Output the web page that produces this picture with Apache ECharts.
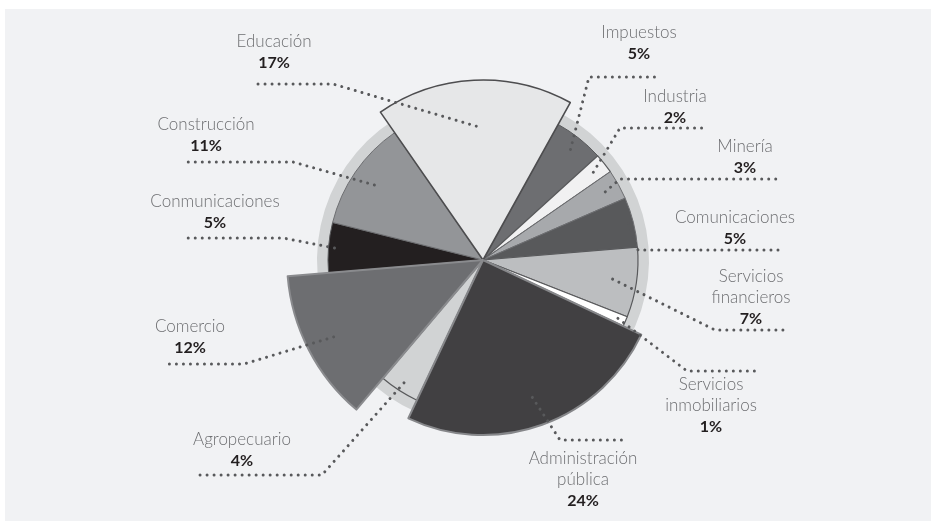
<!DOCTYPE html>
<html>
<head>
<meta charset="utf-8">
<script src="https://cdn.jsdelivr.net/npm/echarts@6/dist/echarts.min.js"></script>
<style>
  html, body { margin: 0; padding: 0; background: #ffffff; }
  #panel { position: absolute; left: 5px; top: 9px; width: 926px; height: 512px; background: #f1f2f4; }
  #chart { position: absolute; left: 0; top: 0; width: 931px; height: 521px; }
</style>
</head>
<body>
<div id="panel"></div>
<div id="chart"></div>
<script>
// Participación por sector (%)
const categories = [
  'Impuestos', 'Industria', 'Minería', 'Comunicaciones',
  'Servicios financieros', 'Servicios inmobiliarios', 'Administración pública',
  'Agropecuario', 'Comercio', 'Conmunicaciones', 'Construcción', 'Educación'
];
const shares = [5, 2, 3, 5, 7, 1, 24, 4, 12, 5, 11, 17];

// ---- presentation ----
const CENTER = [483, 260];
const RING_R = 166;      // grey halo behind the pie
const LABEL_R = 140;     // radius of the helper series that anchors leaders
const START_ANGLE = 61;

const sliceColors = ['#6d6e71', '#f1f1f2', '#a7a9ac', '#58595b', '#bcbec0', '#ffffff',
                     '#414042', '#d1d3d4', '#6d6e71', '#231f20', '#939598', '#e6e7e8'];
const sliceReach  = [155, 155, 155, 155, 155, 155, 175, 155, 196, 155, 155, 180];
const sliceEdge   = ['#58595b', '#58595b', '#6d6e71', '#6d6e71', '#58595b', '#58595b',
                     '#86878a', '#58595b', '#8a8b8e', '#58595b', '#6d6e71', '#4d4d4f'];
const sliceEdgeW  = [1, 1.2, 1, 1, 1.2, 1.2, 2, 1.2, 2, 1, 1, 1.6];

// leader geometry, relative to the pie centre:
// [start radius, elbow dx, elbow dy, end dx, text dx, text dy]
const leaders = [
  [141,  106, -183,  172,  156, -217],
  [141,  137, -132,  223,  192, -153],
  [140,  137,  -81,  293,  262, -103],
  [150,  155,  -10,  300,  252,  -32],
  [131,  232,   70,  303,  268,   38],
  [147,  204,  111,  277,  228,  146],
  [146,   77,  180,  142,  100,  220],
  [146, -161,  215, -286, -241,  190],
  [168, -239,  104, -320, -293,   77],
  [149, -200,  -22, -298, -268,  -48],
  [132, -190,  -98, -298, -277, -125],
  [134, -150, -176, -226, -209, -208]
];

const chart = echarts.init(document.getElementById('chart'), null, { renderer: 'canvas' });

const pieBase = {
  type: 'pie',
  center: CENTER,
  startAngle: START_ANGLE,
  clockwise: true,
  avoidLabelOverlap: false,
  silent: true,
  animation: false,
  emphasis: { disabled: true },
  label: { show: false },
  labelLine: { show: false }
};

function sliceData(visible) {
  return categories.map((name, i) => ({
    name: name,
    value: shares[i],
    itemStyle: visible(i)
      ? { color: sliceColors[i], borderColor: sliceEdge[i], borderWidth: sliceEdgeW[i] }
      : { color: 'rgba(0,0,0,0)', borderWidth: 0 }
  }));
}

const series = [];

// grey halo
series.push(Object.assign({}, pieBase, {
  z: 1,
  radius: [0, RING_R],
  data: [{ value: 1, itemStyle: { color: '#d1d3d4', borderWidth: 0 } }]
}));

// one layer of slices per distinct outer radius
const reaches = Array.from(new Set(sliceReach)).sort((a, b) => a - b);
reaches.forEach(r => {
  series.push(Object.assign({}, pieBase, {
    z: 2,
    radius: [0, r],
    data: sliceData(i => sliceReach[i] === r)
  }));
});

// labels and dotted leaders
function labelText(name, value) {
  const lines = name.split(' ').map(w => '{n|' + w + '}');
  lines.push('{p|' + value + '%}');
  return lines.join('\n');
}

series.push(Object.assign({}, pieBase, {
  z: 10,
  radius: [0, LABEL_R],
  data: sliceData(() => false),
  label: {
    show: true,
    position: 'outside',
    formatter: p => labelText(p.name, p.value),
    rich: {
      n: { fontFamily: 'Lato', fontWeight: 300, fontSize: 17, color: '#6d6e71', lineHeight: 21, align: 'center' },
      p: { fontFamily: 'Lato', fontWeight: 'bold', fontSize: 16, color: '#231f20', lineHeight: 21, align: 'center' }
    }
  },
  labelLine: {
    show: true,
    length: 10,
    length2: 10,
    smooth: false,
    lineStyle: { color: '#58595b', width: 3, type: [0.01, 7], cap: 'round' }
  },
  labelLayout: function (params) {
    const i = params.dataIndex;
    const L = leaders[i];
    const cx = CENTER[0], cy = CENTER[1];
    let start = [cx, cy];
    if (params.labelLinePoints && params.labelLinePoints[0]) {
      const p0 = params.labelLinePoints[0];
      const k = L[0] / LABEL_R;
      start = [cx + (p0[0] - cx) * k, cy + (p0[1] - cy) * k];
    }
    const elbow = [cx + L[1], cy + L[2]];
    const end = [cx + L[3], cy + L[2]];
    return {
      x: cx + L[4],
      y: cy + L[5],
      align: 'center',
      verticalAlign: 'middle',
      labelLinePoints: [start, elbow, end]
    };
  }
}));

chart.setOption({
  backgroundColor: 'transparent',
  animation: false,
  series: series
});
</script>
</body>
</html>
